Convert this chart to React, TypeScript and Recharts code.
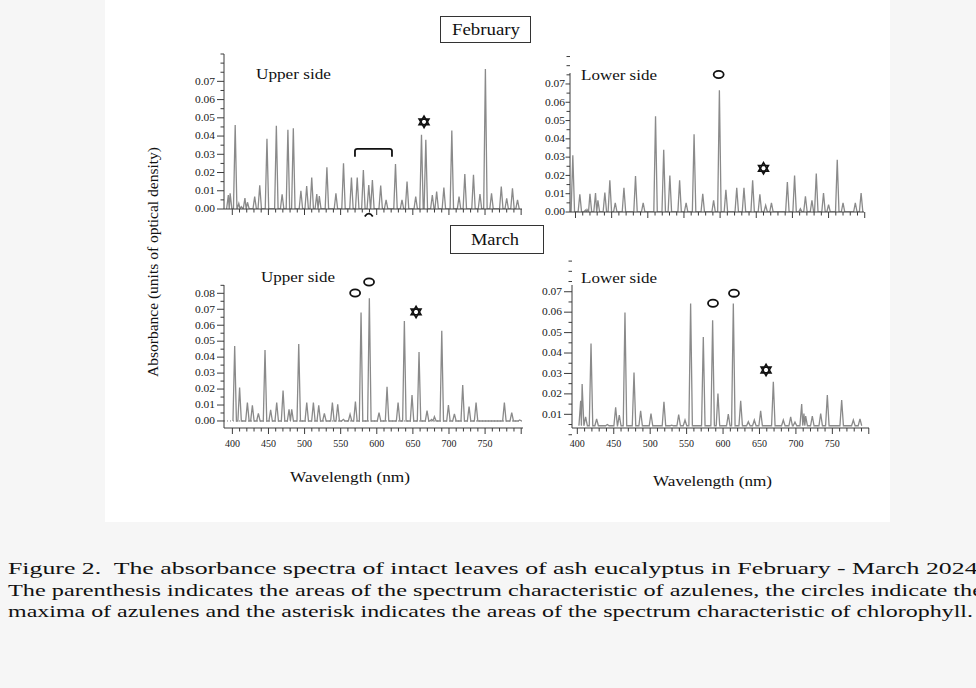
import React from 'react';
import { LineChart, Line, XAxis, YAxis, ReferenceLine, ReferenceDot } from 'recharts';

// peak wavelength (nm) / absorbance
const febUpperNm = [394.5, 397, 404, 409, 412.5, 417.5, 421, 431, 438, 448, 461, 469, 477, 484.5, 495, 503, 510, 517, 520.5, 531, 543.5, 554, 565, 573, 581.5, 589, 594, 605.5, 613, 626, 635, 642, 654, 662, 668, 677, 683, 693, 704, 714, 722, 734, 743, 750.5, 759, 772.5, 780, 788, 795];
const febUpperAbs = [0.0077, 0.0086, 0.046, 0.003, 0.0013, 0.006, 0.0037, 0.0068, 0.013, 0.0385, 0.0456, 0.008, 0.0434, 0.0443, 0.01, 0.0126, 0.0172, 0.0082, 0.0071, 0.0229, 0.0086, 0.0251, 0.0172, 0.0172, 0.0214, 0.0132, 0.0159, 0.0128, 0.005, 0.0246, 0.005, 0.015, 0.0068, 0.0407, 0.0379, 0.0077, 0.0095, 0.0117, 0.0431, 0.0068, 0.0192, 0.0187, 0.0082, 0.0768, 0.0086, 0.0123, 0.0059, 0.0114, 0.005];

const febLowerNm = [396.3, 406, 413.8, 416, 420, 427.7, 431, 440.6, 447.5, 455, 467, 483, 493.6, 510.7, 522, 530.5, 544, 553, 564, 576, 591, 599, 608, 623, 633, 645, 655, 663, 671, 693, 703, 711, 718, 727, 733, 743, 750, 762, 770, 787, 795];
const febLowerAbs = [0.031, 0.0097, 0.001, 0.0013, 0.01, 0.0104, 0.0064, 0.0106, 0.0173, 0.005, 0.0133, 0.0197, 0.005, 0.0523, 0.034, 0.02, 0.0173, 0.005, 0.0425, 0.01, 0.0064, 0.0665, 0.0122, 0.0133, 0.0133, 0.0173, 0.0097, 0.0036, 0.005, 0.0164, 0.02, 0.0018, 0.0086, 0.0064, 0.021, 0.0104, 0.004, 0.0286, 0.005, 0.005, 0.0104];

const marUpperNm = [403.2, 410, 420.8, 427.7, 436, 445.2, 453, 461.4, 470.2, 478.5, 482.2, 491.9, 503, 512.2, 519.6, 527.4, 538.5, 545.9, 553.7, 563, 570.4, 578.2, 589.7, 603.1, 614.2, 629.5, 638.2, 648.8, 658.5, 669.6, 676, 679.8, 690, 699.2, 707.5, 719, 727.8, 737.5, 776.7, 786.9, 798];
const marUpperAbs = [0.047, 0.021, 0.0115, 0.0098, 0.0048, 0.0445, 0.0069, 0.0115, 0.019, 0.0073, 0.0073, 0.0482, 0.0115, 0.0115, 0.0098, 0.0048, 0.0115, 0.0104, 0.001, 0.0042, 0.0121, 0.0679, 0.0769, 0.0052, 0.0215, 0.0115, 0.0627, 0.0163, 0.0432, 0.0065, 0.001, 0.0027, 0.0566, 0.01, 0.0044, 0.0226, 0.009, 0.0115, 0.0115, 0.0052, 0.0006];

const marLowerNm = [404.6, 406.6, 411.4, 418.8, 426.5, 441.2, 452.6, 457.6, 465.4, 477.8, 486.9, 501.1, 518.9, 529.5, 539.1, 547.8, 555.5, 572.9, 585.7, 593, 607.2, 614.1, 624.2, 634.7, 642.9, 651.6, 669, 682.7, 692.8, 698.7, 707.9, 711, 713.4, 722.5, 734, 743.1, 762.8, 778.8, 787.9];
const marLowerAbs = [0.0166, 0.0248, 0.0088, 0.0447, 0.0078, 0.005, 0.0134, 0.0096, 0.0598, 0.0305, 0.0117, 0.0104, 0.0161, 0.0047, 0.0099, 0.0072, 0.0642, 0.0479, 0.0561, 0.0202, 0.0101, 0.0642, 0.0166, 0.0064, 0.0072, 0.0117, 0.0259, 0.0072, 0.0088, 0.0062, 0.015, 0.0104, 0.0091, 0.0091, 0.0104, 0.0194, 0.017, 0.0072, 0.0078];

const nmTicks = [400, 410, 420, 430, 440, 450, 460, 470, 480, 490, 500, 510, 520, 530, 540, 550, 560, 570, 580, 590, 600, 610, 620, 630, 640, 650, 660, 670, 680, 690, 700, 710, 720, 730, 740, 750, 760, 770, 780, 790, 800];
const nmLabels = [400, 450, 500, 550, 600, 650, 700, 750];
const absTicks = [0, 0.005, 0.01, 0.015, 0.02, 0.025, 0.03, 0.035, 0.04, 0.045, 0.05, 0.055, 0.06, 0.065, 0.07, 0.075, 0.08, 0.085];
const absLabelsFeb = [0, 0.01, 0.02, 0.03, 0.04, 0.05, 0.06, 0.07];
const absLabelsMarUp = [0, 0.01, 0.02, 0.03, 0.04, 0.05, 0.06, 0.07, 0.08];
const absLabelsMarLow = [0.01, 0.02, 0.03, 0.04, 0.05, 0.06, 0.07];

const AXIS = '#3c3c3c';
const LINE = '#8a8a8a';
const FONT = 'Liberation Serif, Tinos, Times New Roman, serif';
const serif = { fontFamily: FONT };

type Mark = { kind: 'circle' | 'star' | 'bracket' | 'arc'; nm: number; v: number };

const febUpperMarks: Mark[] = [
  { kind: 'star', nm: 665.5, v: 0.0478 },
  { kind: 'bracket', nm: 595.5, v: 0.033 },
  { kind: 'arc', nm: 589, v: -0.0027 },
];
const febLowerMarks: Mark[] = [
  { kind: 'circle', nm: 598, v: 0.0752 },
  { kind: 'star', nm: 660, v: 0.0239 },
];
const marUpperMarks: Mark[] = [
  { kind: 'circle', nm: 570, v: 0.0802 },
  { kind: 'circle', nm: 589.3, v: 0.0871 },
  { kind: 'star', nm: 654.4, v: 0.0683 },
];
const marLowerMarks: Mark[] = [
  { kind: 'circle', nm: 586.2, v: 0.0644 },
  { kind: 'circle', nm: 615, v: 0.0693 },
  { kind: 'star', nm: 659, v: 0.0317 },
];

// narrow spikes: baseline - peak - baseline
function spectrum(nm: number[], abs: number[], base: number) {
  const hw = 2.4;
  const pts: { nm: number; a: number }[] = [];
  nm.forEach((w, i) => {
    const l = i > 0 ? Math.min(hw, (w - nm[i - 1]) / 2) : hw;
    const r = i < nm.length - 1 ? Math.min(hw, (nm[i + 1] - w) / 2) : hw;
    pts.push({ nm: w - l, a: base }, { nm: w, a: abs[i] }, { nm: w + r, a: base });
  });
  return pts;
}

function MarkShape({ kind, cx, cy }: { kind: Mark['kind']; cx: number; cy: number }) {
  if (kind === 'circle') return <ellipse cx={cx} cy={cy} rx={5} ry={3.6} fill="none" stroke="#111" strokeWidth={1.8} />;
  if (kind === 'star') {
    const r = 5.6;
    const tri = (rot: number) => [0, 1, 2].map((i) => {
      const a = rot + (i * 2 * Math.PI) / 3;
      return `${cx + r * Math.sin(a)},${cy - r * Math.cos(a)}`;
    }).join(' ');
    return (
      <g fill="none" stroke="#111" strokeWidth={1.7}>
        <polygon points={tri(0)} />
        <polygon points={tri(Math.PI)} />
      </g>
    );
  }
  if (kind === 'bracket')
    return <path d={`M${cx - 18.5},${cy + 8} L${cx - 18.5},${cy + 2} Q${cx - 18.5},${cy} ${cx - 16},${cy} L${cx + 16},${cy} Q${cx + 18.5},${cy} ${cx + 18.5},${cy + 2} L${cx + 18.5},${cy + 8}`} fill="none" stroke="#111" strokeWidth={1.8} />;
  return <path d={`M${cx - 4},${cy + 2.5} Q${cx},${cy - 3} ${cx + 4},${cy + 2.5}`} fill="none" stroke="#111" strokeWidth={1.8} />;
}

type PanelProps = {
  nm: number[]; abs: number[]; base: number;
  axisX: number; plotTop: number; plotW: number; plotH: number;
  xDomain: [number, number]; yDomain: [number, number];
  yLabels: number[]; xLabels: number[];
  majorLen: number; labelGap: number;
  dottedZero?: boolean; marks: Mark[];
};

function Panel(p: PanelProps) {
  const YW = 50, MT = 25, XH = 30, MR = 6;
  const data = spectrum(p.nm, p.abs, p.base);
  const axisY = MT + p.plotH;

  const yTick = (t: any) => {
    const v = t.payload.value;
    const major = p.yLabels.some((l) => Math.abs(l - v) < 1e-6);
    return (
      <g>
        <line x1={YW - (major ? p.majorLen : 3.5)} x2={YW} y1={t.y} y2={t.y} stroke={AXIS} />
        {major && (
          <text x={YW - p.labelGap} y={t.y + 3.3} textAnchor="end" fontSize={10} fill="#222" style={serif} textLength={20} lengthAdjust="spacingAndGlyphs">
            {v.toFixed(2)}
          </text>
        )}
      </g>
    );
  };

  const xTick = (t: any) => {
    const v = t.payload.value;
    const major = v % 50 === 0;
    const label = p.xLabels.includes(v);
    return (
      <g>
        <line x1={t.x} x2={t.x} y1={axisY} y2={axisY + (major ? 6 : 3.5)} stroke={AXIS} />
        {label && (
          <text x={t.x} y={axisY + 18.5} textAnchor="middle" fontSize={10} fill="#222" style={serif}>
            {v}
          </text>
        )}
      </g>
    );
  };

  return (
    <div style={{ position: 'absolute', left: p.axisX - YW, top: p.plotTop - MT }}>
      <LineChart width={YW + p.plotW + MR} height={MT + p.plotH + XH} data={data} margin={{ top: MT, right: MR, bottom: 0, left: 0 }}>
        <XAxis type="number" dataKey="nm" domain={p.xDomain} allowDataOverflow ticks={nmTicks} interval={0} height={XH} tickLine={false} tick={xTick} stroke={AXIS} />
        <YAxis type="number" domain={p.yDomain} allowDataOverflow ticks={absTicks} interval={0} width={YW} tickLine={false} tick={yTick} stroke={AXIS} />
        {p.dottedZero && <ReferenceLine y={0} stroke="#7a7a7a" strokeDasharray="1 2" />}
        <Line type="linear" dataKey="a" stroke={LINE} strokeWidth={1.3} dot={false} isAnimationActive={false} />
        {p.marks.map((m, i) => (
          <ReferenceDot key={i} x={m.nm} y={m.v} ifOverflow="visible" shape={(s: any) => <MarkShape kind={m.kind} cx={s.cx} cy={s.cy} />} />
        ))}
      </LineChart>
    </div>
  );
}

export default function App() {
  return (
    <div style={{ position: 'absolute', left: 0, top: 0, width: 976, height: 688, overflow: 'hidden', background: '#f6f6f6', ...serif }}>
      <div style={{ position: 'absolute', left: 105, top: 0, width: 785, height: 522, background: '#fff' }} />

      <Panel nm={febUpperNm} abs={febUpperAbs} base={0} axisX={224} plotTop={54} plotW={298} plotH={155}
        xDomain={[388.5, 801.2]} yDomain={[0, 0.085]} yLabels={absLabelsFeb} xLabels={[]} majorLen={7} labelGap={9} marks={febUpperMarks} />
      <Panel nm={febLowerNm} abs={febLowerAbs} base={0} axisX={569.5} plotTop={73} plotW={294} plotH={139}
        xDomain={[392.4, 799]} yDomain={[0, 0.076]} yLabels={absLabelsFeb} xLabels={[]} majorLen={4.5} labelGap={5} marks={febLowerMarks} />
      <Panel nm={marUpperNm} abs={marUpperAbs} base={0} axisX={224} plotTop={285} plotW={299} plotH={143}
        xDomain={[388.4, 802.5]} yDomain={[-0.0044, 0.0852]} yLabels={absLabelsMarUp} xLabels={nmLabels} majorLen={7} labelGap={9} dottedZero marks={marUpperMarks} />
      <Panel nm={marLowerNm} abs={marLowerAbs} base={0.0044} axisX={572} plotTop={285} plotW={297} plotH={143}
        xDomain={[392.7, 800.3]} yDomain={[0.0033, 0.0733]} yLabels={absLabelsMarLow} xLabels={nmLabels} majorLen={8} labelGap={10} marks={marLowerMarks} />

      <svg width={976} height={688} style={{ position: 'absolute', left: 0, top: 0, pointerEvents: 'none', ...serif }} fill="#111">
        <rect x={440.5} y={16.5} width={90} height={26} fill="#fff" stroke="#333" />
        <text x={452} y={35} fontSize={16} textLength={68} lengthAdjust="spacingAndGlyphs">February</text>
        <rect x={450.5} y={225.5} width={93} height={28} fill="#fff" stroke="#333" />
        <text x={471} y={244.5} fontSize={16} textLength={48} lengthAdjust="spacingAndGlyphs">March</text>

        <text x={256} y={79} fontSize={15} textLength={75} lengthAdjust="spacingAndGlyphs">Upper side</text>
        <text x={581} y={80} fontSize={15} textLength={76} lengthAdjust="spacingAndGlyphs">Lower side</text>
        <text x={261} y={282} fontSize={15} textLength={74} lengthAdjust="spacingAndGlyphs">Upper side</text>
        <text x={581} y={283} fontSize={15} textLength={76} lengthAdjust="spacingAndGlyphs">Lower side</text>

        <text x={290} y={482} fontSize={15} textLength={120} lengthAdjust="spacingAndGlyphs">Wavelength (nm)</text>
        <text x={653} y={486} fontSize={15} textLength={119} lengthAdjust="spacingAndGlyphs">Wavelength (nm)</text>

        <text transform="translate(158,262) rotate(-90)" textAnchor="middle" fontSize={15} textLength={230} lengthAdjust="spacingAndGlyphs">
          Absorbance (units of optical density)
        </text>

        <text x={8} y={574} fontSize={17} textLength={976} lengthAdjust="spacingAndGlyphs" style={{ whiteSpace: 'pre' }}>
          {'Figure 2.  The absorbance spectra of intact leaves of ash eucalyptus in February - March 2024.'}
        </text>
        <text x={8} y={596} fontSize={17} textLength={975} lengthAdjust="spacingAndGlyphs">
          The parenthesis indicates the areas of the spectrum characteristic of azulenes, the circles indicate the
        </text>
        <text x={8} y={617} fontSize={17} textLength={965} lengthAdjust="spacingAndGlyphs">
          maxima of azulenes and the asterisk indicates the areas of the spectrum characteristic of chlorophyll.
        </text>
      </svg>
    </div>
  );
}
